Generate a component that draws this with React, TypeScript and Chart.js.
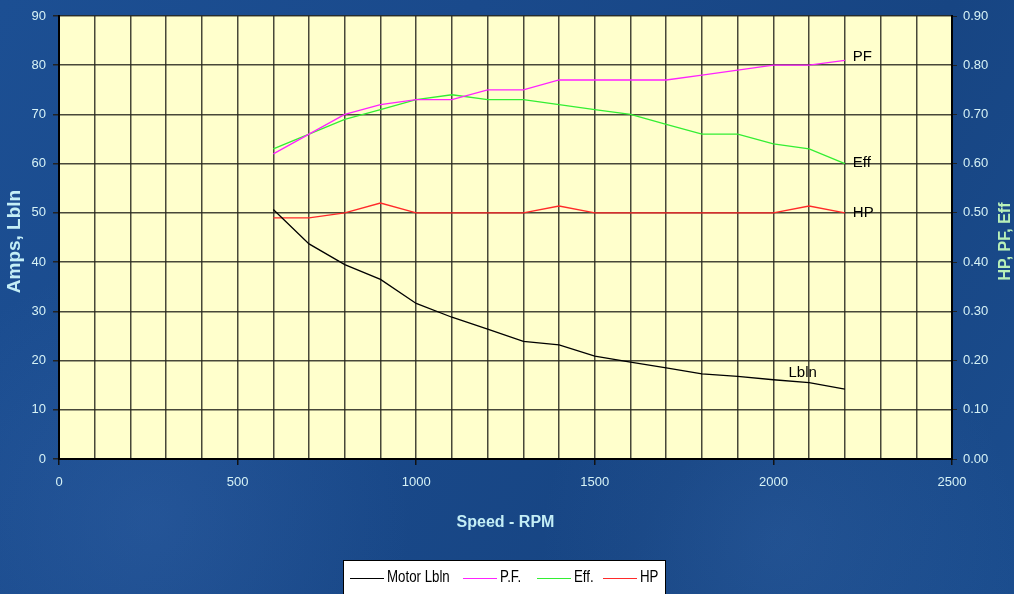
import React, { useEffect, useRef } from "react";
import { Chart, registerables } from "chart.js";

Chart.register(...registerables);

// ---- data ----
const rpm = [600, 700, 800, 900, 1000, 1100, 1200, 1300, 1400, 1500, 1600, 1700, 1800, 1900, 2000, 2100, 2200];
const motorLbln = [50.7, 43.7, 39.5, 36.5, 31.6, 28.8, 26.4, 23.9, 23.2, 20.9, 19.7, 18.5, 17.3, 16.8, 16.1, 15.5, 14.2];
const powerFactor = [0.62, 0.66, 0.7, 0.72, 0.73, 0.73, 0.75, 0.75, 0.77, 0.77, 0.77, 0.77, 0.78, 0.79, 0.8, 0.8, 0.81];
const efficiency = [0.63, 0.66, 0.69, 0.71, 0.73, 0.74, 0.73, 0.73, 0.72, 0.71, 0.7, 0.68, 0.66, 0.66, 0.64, 0.63, 0.6];
const horsepower = [0.49, 0.49, 0.5, 0.52, 0.5, 0.5, 0.5, 0.5, 0.514, 0.5, 0.5, 0.5, 0.5, 0.5, 0.5, 0.514, 0.5];

const seriesNames = ["Motor Lbln", "P.F.", "Eff.", "HP"];
const endLabels = ["Lbln", "PF", "Eff", "HP"];
const xLabeledTicks = [0, 500, 1000, 1500, 2000, 2500];
const xTitle = "Speed - RPM";
const yLeftTitle = "Amps, Lbln";
const yRightTitle = "HP, PF, Eff";

const colors = ["#000000", "#ff22ff", "#33ee33", "#ff2a2a"];
const SANS = '"Liberation Sans", Arial, sans-serif';
const TICK_COLOR = "#d6f2f6";

// offsets for end labels relative to last point (px)
const endLabelOffsets = [
  { dx: -28, dy: -16, align: "right" },
  { dx: 8, dy: -3, align: "left" },
  { dx: 8, dy: -1, align: "left" },
  { dx: 8, dy: 0, align: "left" },
];

const toPoints = (ys: number[]) => rpm.map((x, i) => ({ x, y: ys[i] }));

const decorPlugin = {
  id: "decor",
  beforeDraw(chart: any) {
    const { ctx, width, height, chartArea } = chart;
    ctx.save();
    const g = ctx.createLinearGradient(0, 0, width, height);
    g.addColorStop(0, "#1c4f93");
    g.addColorStop(0.35, "#1a4a8c");
    g.addColorStop(0.7, "#174583");
    g.addColorStop(1, "#1b4d8e");
    ctx.fillStyle = g;
    ctx.fillRect(0, 0, width, height);
    const r1 = ctx.createRadialGradient(150, 520, 10, 150, 520, 260);
    r1.addColorStop(0, "rgba(80,130,200,0.18)");
    r1.addColorStop(1, "rgba(80,130,200,0)");
    ctx.fillStyle = r1;
    ctx.fillRect(0, 0, width, height);
    const r2 = ctx.createRadialGradient(780, 540, 10, 780, 540, 240);
    r2.addColorStop(0, "rgba(90,140,210,0.14)");
    r2.addColorStop(1, "rgba(90,140,210,0)");
    ctx.fillStyle = r2;
    ctx.fillRect(0, 0, width, height);
    ctx.fillStyle = "#ffffcc";
    ctx.fillRect(chartArea.left, chartArea.top, chartArea.right - chartArea.left, chartArea.bottom - chartArea.top);
    ctx.restore();
  },
  afterDatasetsDraw(chart: any) {
    const { ctx } = chart;
    ctx.save();
    ctx.font = `15px ${SANS}`;
    ctx.fillStyle = "#000";
    ctx.textBaseline = "middle";
    chart.data.datasets.forEach((ds: any, i: number) => {
      const meta = chart.getDatasetMeta(i);
      const last = meta.data[meta.data.length - 1];
      const off = endLabelOffsets[i];
      ctx.textAlign = off.align;
      ctx.fillText(endLabels[i], last.x + off.dx, last.y + off.dy);
    });
    ctx.restore();
  },
  afterDraw(chart: any) {
    const { ctx, chartArea } = chart;
    ctx.save();
    // axis titles
    ctx.font = `bold 19px ${SANS}`;
    ctx.fillStyle = "#c4eef6";
    ctx.textAlign = "center";
    ctx.textBaseline = "middle";
    ctx.save();
    ctx.translate(15, (chartArea.top + chartArea.bottom) / 2 + 4);
    ctx.rotate(-Math.PI / 2);
    ctx.fillText(yLeftTitle, 0, 0);
    ctx.restore();
    ctx.font = `bold 16px ${SANS}`;
    ctx.fillStyle = "#b8f0b8";
    ctx.save();
    ctx.translate(1006, (chartArea.top + chartArea.bottom) / 2 + 4);
    ctx.rotate(-Math.PI / 2);
    ctx.fillText(yRightTitle, 0, 0);
    ctx.restore();
    ctx.font = `bold 16px ${SANS}`;
    ctx.fillStyle = "#c4eef6";
    ctx.fillText(xTitle, (chartArea.left + chartArea.right) / 2, 523);

    // legend
    ctx.fillStyle = "#ffffff";
    ctx.fillRect(343, 560, 323, 40);
    ctx.strokeStyle = "#000";
    ctx.lineWidth = 1;
    ctx.strokeRect(343.5, 560.5, 322, 40);
    const itemX = [350, 463, 537, 603];
    ctx.font = `16px ${SANS}`;
    ctx.textAlign = "left";
    ctx.textBaseline = "middle";
    seriesNames.forEach((name, i) => {
      ctx.strokeStyle = colors[i];
      ctx.lineWidth = 1;
      ctx.beginPath();
      ctx.moveTo(itemX[i], 578.5);
      ctx.lineTo(itemX[i] + 34, 578.5);
      ctx.stroke();
      ctx.fillStyle = "#000";
      ctx.save();
      ctx.translate(itemX[i] + 37, 578);
      ctx.scale(0.83, 1);
      ctx.fillText(name, 0, 0);
      ctx.restore();
    });
    ctx.restore();
  },
};

export default function App() {
  const ref = useRef<HTMLCanvasElement | null>(null);
  useEffect(() => {
    const canvas = ref.current;
    if (!canvas) return;
    const gridColor = "rgba(40,40,30,0.85)";
    const chart = new Chart(canvas, {
      type: "line",
      data: {
        datasets: [
          { label: seriesNames[0], data: toPoints(motorLbln), yAxisID: "y", borderColor: colors[0] },
          { label: seriesNames[1], data: toPoints(powerFactor), yAxisID: "y1", borderColor: colors[1] },
          { label: seriesNames[2], data: toPoints(efficiency), yAxisID: "y1", borderColor: colors[2] },
          { label: seriesNames[3], data: toPoints(horsepower), yAxisID: "y1", borderColor: colors[3] },
        ],
      },
      options: {
        animation: false,
        responsive: false,
        devicePixelRatio: 1,
        layout: { padding: { top: 16, bottom: 95, left: 0, right: 0 } },
        elements: {
          point: { radius: 0, hoverRadius: 0 },
          line: { borderWidth: 1.3, tension: 0 },
        },
        plugins: {
          legend: { display: false },
          tooltip: { enabled: false },
        },
        scales: {
          x: {
            type: "linear",
            min: 0,
            max: 2500,
            afterFit: (s: any) => {
              s.height = 40;
            },
            ticks: {
              stepSize: 100,
              autoSkip: false,
              maxRotation: 0,
              padding: 10,
              color: TICK_COLOR,
              font: { family: SANS, size: 13 },
              callback: (v: any) => (xLabeledTicks.includes(Number(v)) ? String(v) : ""),
            },
            grid: {
              color: gridColor,
              lineWidth: 1.5,
              tickLength: 6,
              tickColor: (c: any) => (c.tick && xLabeledTicks.includes(c.tick.value) ? "#111" : "rgba(0,0,0,0)"),
            },
            border: { color: "#000", width: 2 },
          },
          y: {
            type: "linear",
            position: "left",
            min: 0,
            max: 90,
            afterFit: (s: any) => {
              s.width = 59;
            },
            ticks: {
              stepSize: 10,
              padding: 7,
              color: TICK_COLOR,
              font: { family: SANS, size: 13 },
            },
            grid: { color: gridColor, lineWidth: 1.5, tickLength: 6, tickColor: "#222" },
            border: { color: "#000", width: 2 },
          },
          y1: {
            type: "linear",
            position: "right",
            min: 0,
            max: 0.9,
            afterFit: (s: any) => {
              s.width = 62;
            },
            ticks: {
              stepSize: 0.1,
              padding: 6,
              color: TICK_COLOR,
              font: { family: SANS, size: 13 },
              callback: (v: any) => Number(v).toFixed(2),
            },
            grid: { drawOnChartArea: false, tickLength: 5, tickColor: "#222" },
            border: { color: "#000", width: 2 },
          },
        },
      },
      plugins: [decorPlugin],
    } as any);
    return () => chart.destroy();
  }, []);
  return (
    <div style={{ position: "fixed", left: 0, top: 0, width: 1014, height: 594, overflow: "hidden" }}>
      <canvas ref={ref} width={1014} height={594} style={{ display: "block", width: 1014, height: 594 }} />
    </div>
  );
}
